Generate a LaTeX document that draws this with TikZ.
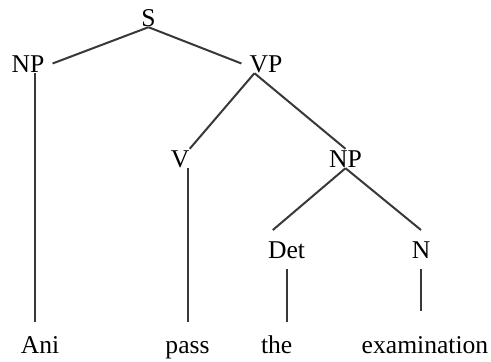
\documentclass[tikz,border=0pt]{standalone}
\usepackage{fontspec}
\setmainfont{Liberation Serif}
\begin{document}
\begin{tikzpicture}[x=1pt,y=-1pt,
  lbl/.style={anchor=base,inner xsep=8pt,inner ysep=1pt,text height=17pt,text depth=0pt,
    font=\fontsize{25.6}{30}\selectfont},
  low/.style={lbl,outer ysep=10pt},
  word/.style={lbl,outer ysep=13pt},
  edge/.style={draw=black!78,line width=2pt}]
\useasboundingbox (0,0) rectangle (491,362);
\node[lbl] (S)   at (148.5,26) {S};
\node[lbl] (NPa) at (28,72) {NP};
\node[lbl] (VP)  at (266,72) {VP};
\node[lbl] (V)   at (180,167) {V};
\node[lbl] (NPb) at (345.5,167) {NP};
\node[low] (Det) at (286.5,258) {Det};
\node[low] (N)   at (421,258) {N};
\node[word] (Ani)  at (40,353) {Ani};
\node[word] (pass) at (187.5,353) {pass};
\node[word] (the)  at (276.7,353) {the};
\node[word] (exam) at (425,353) {examination};
\draw[edge] (S.south) -- (NPa.east);
\draw[edge] (S.south) -- (VP.west);
\draw[edge] (VP.220) -- (V.45);
\draw[edge] (VP.220) -- (NPb.north);
\draw[edge] (NPb.south) -- (Det.125);
\draw[edge] (NPb.south) -- (N.north);
\draw[edge] (NPa.-55) -- (NPa.-55 |- Ani.north);
\draw[edge] (V.south -| pass.north) -- (pass.north);
\draw[edge] (Det.south) -- (Det.south |- the.north);
\draw[edge,shorten >=11pt] (N.south) -- (N.south |- exam.north);
\end{tikzpicture}
\end{document}
